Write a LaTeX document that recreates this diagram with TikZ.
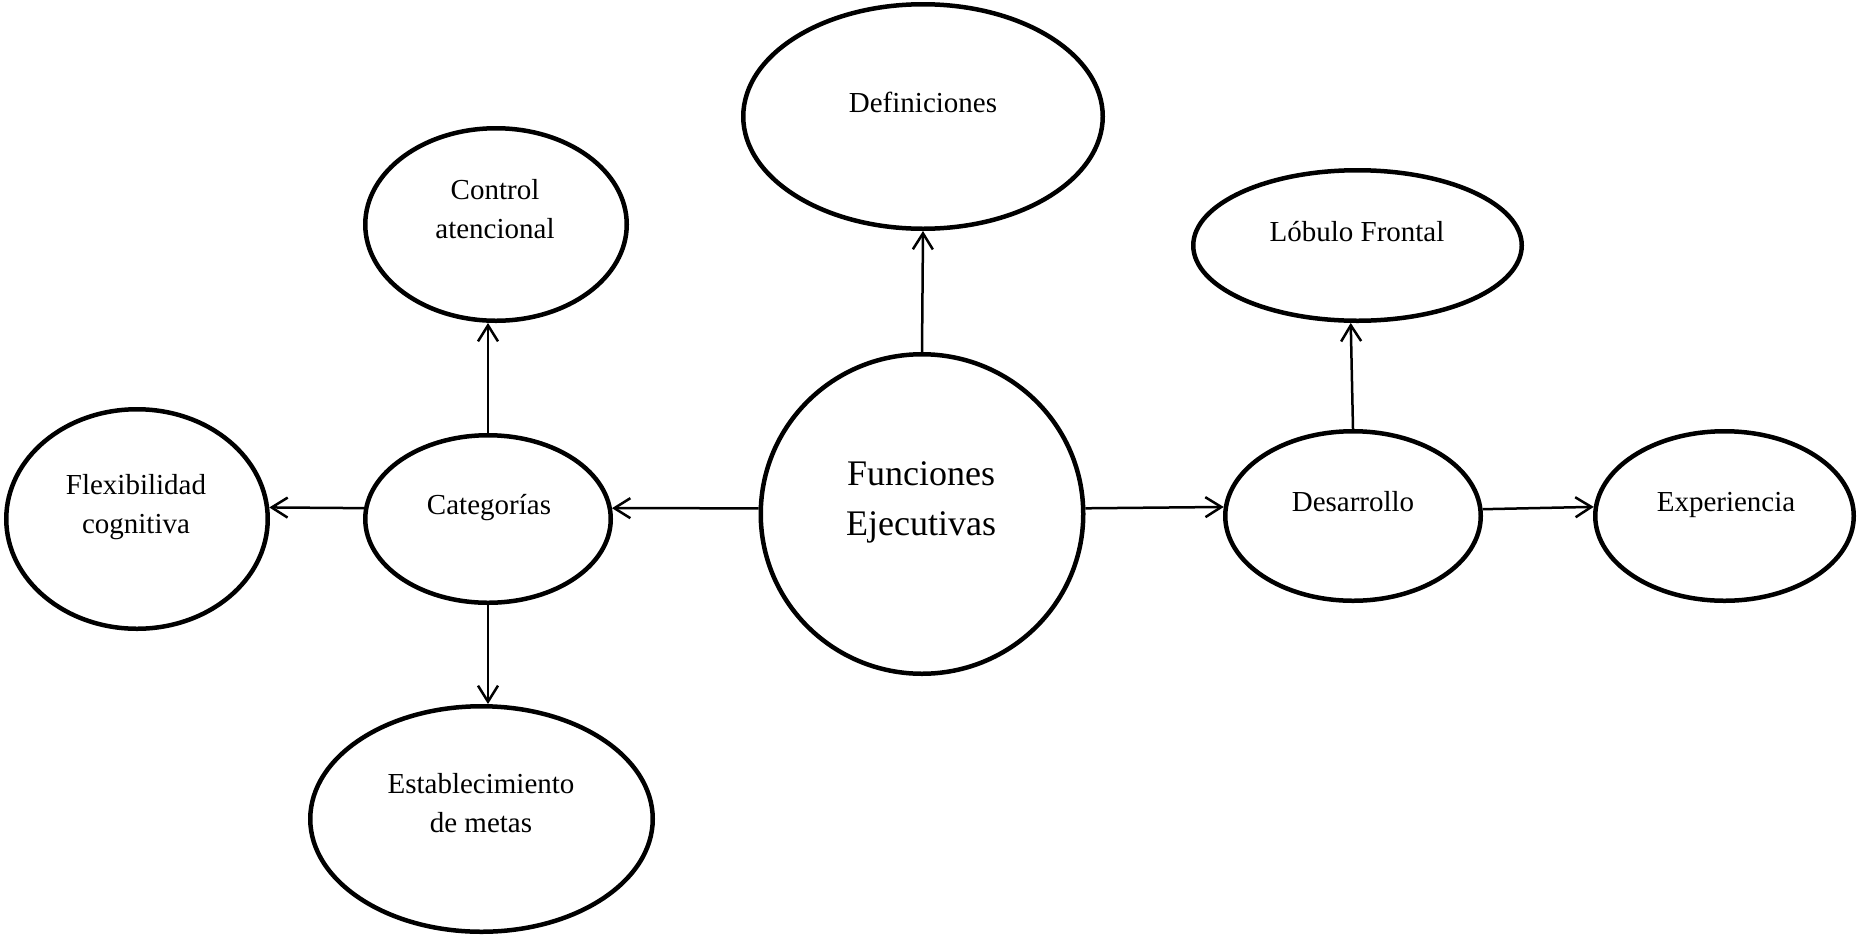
\documentclass[tikz,border=0pt]{standalone}
\usepackage{fontspec}
\setmainfont{Liberation Serif}
\usetikzlibrary{shapes.geometric,arrows.meta}
\begin{document}
\begin{tikzpicture}[x=1pt,y=-1pt,
  bub/.style={draw, ellipse, line width=4.5pt, inner sep=0pt},
  txt/.style={inner sep=0pt, anchor=base, align=center, font=\fontsize{29}{39}\selectfont},
  bigtxt/.style={inner sep=0pt, anchor=base, align=center, font=\fontsize{36}{50}\selectfont},
  arr/.style={line width=2.5pt, -{Straight Barb[length=16pt,width=20pt]}}]
\useasboundingbox (0,0) rectangle (1860,935);
% ellipses
\node[bub, minimum width=322.5pt, minimum height=319.5pt] (fe) at (922,514) {};
\node[bub, minimum width=359.5pt, minimum height=224.5pt] (def) at (923,116.5) {};
\node[bub, minimum width=261.5pt, minimum height=192.5pt] (ctl) at (496,224.5) {};
\node[bub, minimum width=328.5pt, minimum height=150.5pt] (lob) at (1357.5,245.5) {};
\node[bub, minimum width=261.5pt, minimum height=219.5pt] (flex) at (137,519) {};
\node[bub, minimum width=245.5pt, minimum height=167.5pt] (cat) at (488,519) {};
\node[bub, minimum width=255.5pt, minimum height=169.5pt] (des) at (1353,516) {};
\node[bub, minimum width=258.5pt, minimum height=169.5pt] (exp) at (1724.5,516) {};
\node[bub, minimum width=342.5pt, minimum height=225.5pt] (est) at (481.5,819) {};
% texts (base anchor = baseline of the last line)
\node[txt] (deft) at (923,112) {Definiciones};
\node[bigtxt] (fet) at (921,535) {Funciones\\Ejecutivas};
\node[txt] (ctlt) at (495,238) {Control\\atencional};
\node[txt] (lobt) at (1357,241) {Lóbulo Frontal};
\node[txt] (flext) at (136,533) {Flexibilidad\\cognitiva};
\node[txt] (catt) at (489,514) {Categorías};
\node[txt] (dest) at (1353,511) {Desarrollo};
\node[txt] (expt) at (1726,511) {Experiencia};
\node[txt] (estt) at (481,832) {Establecimiento\\de metas};
% connectors
\draw[arr] (fe.north) -- (def.south);
\draw[arr] (fe.178) -- (cat.5);
\draw[arr] (cat.north) -- (cat.north |- ctl.south);
\draw[arr] (cat.175) -- (flex.5);
\draw[arr] (cat.south) -- (cat.south |- est.north);
\draw[arr] (fe.2) -- (des.176.5);
\draw[arr] (des.north) -- (lob.265);
\draw[arr] (des.3.5) -- (exp.176.5);
\end{tikzpicture}
\end{document}
